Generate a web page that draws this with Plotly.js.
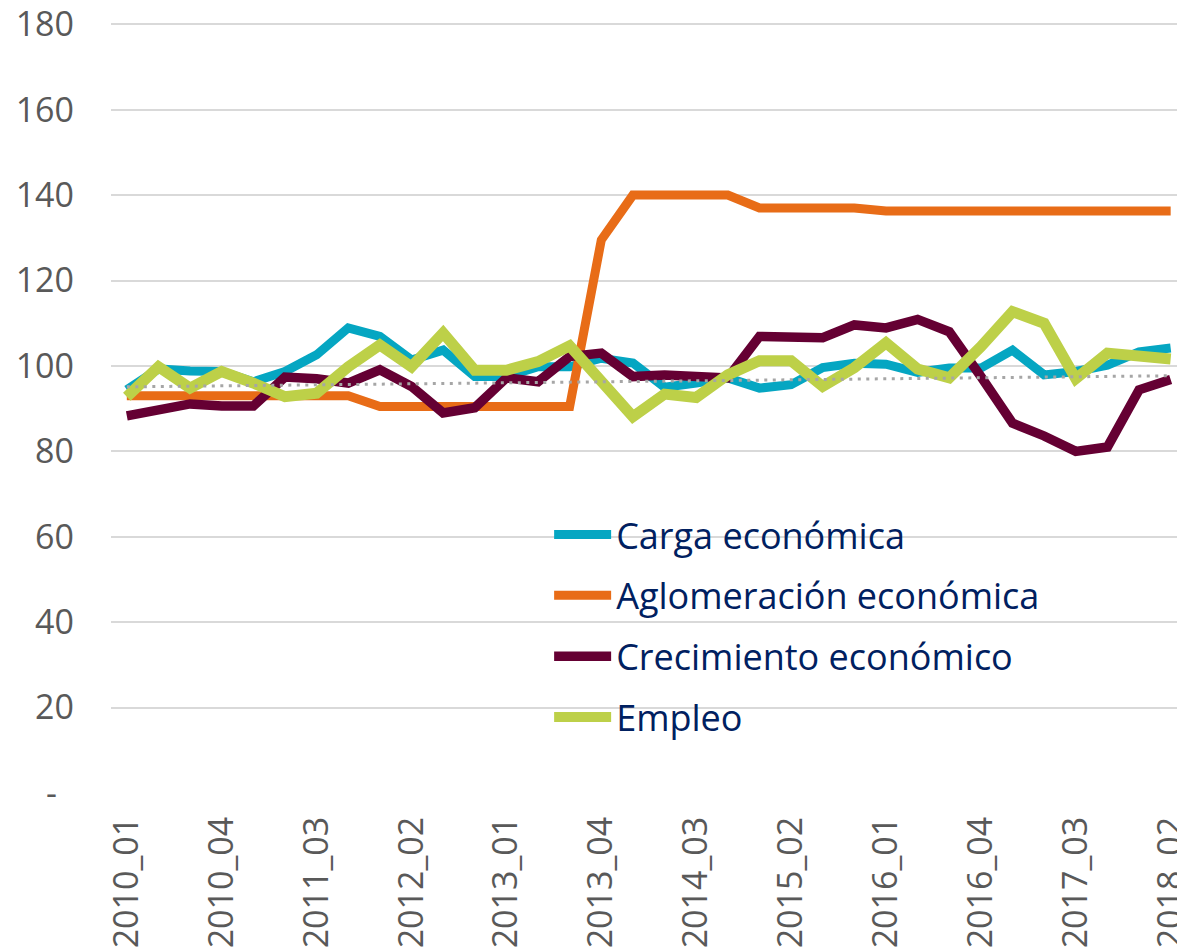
<!DOCTYPE html>
<html>
<head>
<meta charset="utf-8">
<script src="https://cdn.plot.ly/plotly-3.0.1.min.js"></script>
<style>
  html, body { margin: 0; padding: 0; background: #fff; }
  #chart { width: 1177px; height: 952px; }
</style>
</head>
<body>
<div id="chart"></div>
<script>
// quarters 2010_01 .. 2018_02
let quarters = [
  "2010_01","2010_02","2010_03","2010_04",
  "2011_01","2011_02","2011_03","2011_04",
  "2012_01","2012_02","2012_03","2012_04",
  "2013_01","2013_02","2013_03","2013_04",
  "2014_01","2014_02","2014_03","2014_04",
  "2015_01","2015_02","2015_03","2015_04",
  "2016_01","2016_02","2016_03","2016_04",
  "2017_01","2017_02","2017_03","2017_04",
  "2018_01","2018_02"
];

let carga = [94.4, 99.3, 98.8, 98.7, 96.3, 98.7, 102.6, 108.9, 106.9, 101.4,
  103.7, 97.5, 97.5, 99.8, 99.8, 101.8, 100.7, 95.0, 96.0, 97.2,
  94.8, 95.6, 99.6, 100.6, 100.4, 98.5, 99.5, 99.5, 103.7, 97.9,
  98.7, 100.2, 103.3, 104.2];

let aglomeracion = [93, 93, 93, 93, 93, 93, 93, 93, 90.5, 90.5,
  90.5, 90.5, 90.5, 90.5, 90.5, 129.5, 140, 140, 140, 140,
  137, 137, 137, 137, 136.3, 136.3, 136.3, 136.3, 136.3, 136.3,
  136.3, 136.3, 136.3, 136.3];

let crecimiento = [88.3, 89.7, 91.1, 90.6, 90.6, 97.4, 97.0, 96.0, 99.1, 95.2,
  89.0, 90.2, 97.2, 96.3, 102.2, 103.0, 97.5, 97.9, 97.5, 97.2,
  106.9, 106.9, 106.6, 109.6, 108.9, 110.9, 108.0, 97.5, 86.6, 83.6,
  80.0, 81.0, 94.4, 96.8];

let empleo = [92.8, 99.8, 94.8, 98.7, 96.0, 92.8, 93.6, 99.8, 104.9, 99.8,
  107.7, 99.0, 99.0, 101.0, 104.7, 96.7, 88.1, 93.4, 92.6, 97.9,
  101.2, 101.2, 95.2, 99.6, 105.4, 99.3, 97.2, 104.5, 112.7, 110.0,
  97.0, 103.0, 102.6, 101.6];

// dotted trend line, ends
let trendX = ["2010_01", "2018_02"];
let trendY = [95.1, 97.7];

let yTicks = [0, 20, 40, 60, 80, 100, 120, 140, 160, 180];
let yLabels = ["-\u2002", "20", "40", "60", "80", "100", "120", "140", "160", "180"];

function makeLine(name, values, color, width) {
  return {
    x: quarters,
    y: values,
    name: name,
    legendgroup: name,
    type: "scatter",
    mode: "lines",
    line: {color: color, width: width}
  };
}

let data = [
  makeLine("Carga económica", carga, "#05a6c2", 9),
  makeLine("Aglomeración económica", aglomeracion, "#e86c17", 9),
  makeLine("Crecimiento económico", crecimiento, "#650033", 9.5),
  makeLine("Empleo", empleo, "#bdd048", 11),
  {
    x: trendX,
    y: trendY,
    type: "scatter",
    mode: "lines",
    showlegend: false,
    line: {color: "#a6a6a6", width: 3, dash: "3px,5.5px"}
  }
];

let layout = {
  width: 1177,
  height: 952,
  margin: {l: 111, r: 0, t: 20, b: 159},
  paper_bgcolor: "#ffffff",
  plot_bgcolor: "#ffffff",
  font: {family: "Open Sans, sans-serif", color: "#595959", size: 34},
  showlegend: true,
  legend: {
    x: 0.411,
    y: 0.373,
    xanchor: "left",
    yanchor: "top",
    bgcolor: "rgba(0,0,0,0)",
    font: {family: "Open Sans, sans-serif", size: 36, color: "#002060"},
    itemwidth: 57,
    tracegroupgap: 11
  },
  xaxis: {
    type: "category",
    range: [-0.5, 33.2],
    tickmode: "linear",
    tick0: 0,
    dtick: 3,
    tickangle: -90,
    ticks: "",
    ticklabelstandoff: 16,
    showgrid: false,
    showline: false,
    zeroline: false,
    tickfont: {size: 34, color: "#595959"}
  },
  yaxis: {
    range: [0, 181],
    tickmode: "array",
    tickvals: yTicks,
    ticktext: yLabels,
    ticks: "",
    ticklabelstandoff: 36,
    showgrid: true,
    gridcolor: "#d9d9d9",
    gridwidth: 1.5,
    zeroline: false,
    showline: false,
    tickfont: {size: 34, color: "#595959"}
  }
};

Plotly.newPlot("chart", data, layout, {displayModeBar: false});
</script>
</body>
</html>
